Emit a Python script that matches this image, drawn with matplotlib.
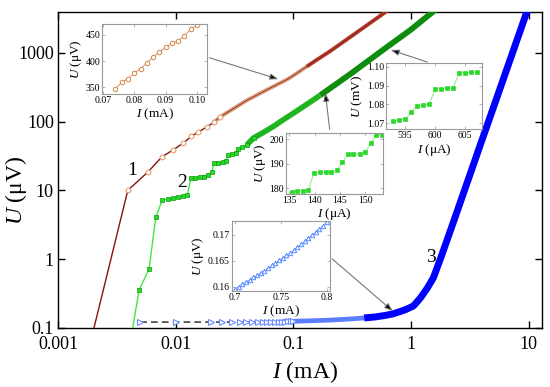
import matplotlib
matplotlib.use('Agg')
import matplotlib.pyplot as plt
from matplotlib.patches import FancyArrowPatch

plt.rcParams['font.family'] = ['Liberation Serif', 'DejaVu Serif']
plt.rcParams['mathtext.fontset'] = 'custom'
plt.rcParams['mathtext.it'] = 'Liberation Serif:italic'
plt.rcParams['mathtext.rm'] = 'Liberation Serif'

# ---------------- main data (I in mA, U in uV) ----------------
c1_I = [0.00192, 0.00392, 0.00587, 0.00763, 0.00957, 0.01165, 0.01355, 0.01545,
        0.01844, 0.0213, 0.0239, 0.0404, 0.06, 0.0883, 0.1, 0.13, 0.16, 0.2066,
        0.35, 0.618, 0.815]
c1_U = [0.07, 10.0, 18.8, 30.6, 39.0, 48.8, 60.9, 69.7,
        83.4, 98.6, 117, 204, 291, 408, 465, 630, 798, 1060,
        2000, 3980, 5560]

c2_I = [0.00417, 0.00489, 0.00594, 0.00678, 0.00772, 0.00869, 0.00958, 0.01056,
        0.01165, 0.0126, 0.01346, 0.01465, 0.01595, 0.01725, 0.01866, 0.02034,
        0.021, 0.0231, 0.0252, 0.0269, 0.0281, 0.0301, 0.0327, 0.0336, 0.0366,
        0.0404, 0.0459, 0.0558, 0.0679, 0.0826, 0.1007, 0.1225, 0.170, 0.305,
        0.6, 0.99, 1.55, 1.97]
c2_U = [0.07, 0.357, 0.715, 4.08, 7.3, 7.47, 7.73, 7.89,
        8.34, 8.63, 15.1, 15.2, 15.6, 15.9, 16.9, 18.2,
        24.9, 25.2, 25.8, 27.0, 33.0, 33.7, 34.9, 39.9, 42.7,
        46.1, 57.7, 69.7, 85.2, 107, 133, 166, 242, 490,
        1150, 2140, 3980, 5370]

c3_low_I = [0.005, 0.01, 0.02, 0.025, 0.03, 0.035, 0.04, 0.045, 0.05, 0.055,
            0.06, 0.065, 0.07, 0.075, 0.08, 0.085, 0.09, 0.095, 0.1]
c3_low_U = [0.122, 0.122, 0.122, 0.122, 0.122, 0.122, 0.122, 0.122, 0.122, 0.1225,
            0.1225, 0.123, 0.123, 0.1235, 0.124, 0.124, 0.1245, 0.125, 0.125]

c3_I = [0.08, 0.1, 0.2, 0.3, 0.4, 0.5, 0.6, 0.7, 0.8, 0.9, 1.05, 1.205, 1.38, 1.55,
        1.78, 2.17, 2.64, 3.21, 3.90, 4.75, 5.78, 7.03, 8.55, 10.4]
c3_U = [0.124, 0.125, 0.13, 0.135, 0.14, 0.145, 0.152, 0.16, 0.1725, 0.185, 0.209,
        0.274, 0.382, 0.535, 1.01, 2.63, 6.87, 17.9, 46.7, 122, 318, 829, 2160, 5640]

x_ticks = [0.001, 0.01, 0.1, 1, 10]
x_tick_labels = ['0.001', '0.01', '0.1', '1', '10']
y_ticks = [0.1, 1, 10, 100, 1000]
y_tick_labels = ['0.1', '1', '10', '100', '1000']

# ---------------- inset data ----------------
in1_I = [0.074, 0.076, 0.078, 0.080, 0.082, 0.084, 0.086, 0.088, 0.090, 0.092,
         0.094, 0.096, 0.098, 0.100]
in1_U = [347, 359.6, 366.4, 376.8, 385.6, 395.9, 408.5, 416.9, 426.5, 434.1,
         439.1, 448.7, 460.9, 468.5]

in2_I = [135.5, 136.6, 137.7, 138.8, 139.9, 141.0, 142.2, 143.3, 144.4, 145.5,
         146.6, 147.7, 148.9, 150.0, 151.1, 152.2, 153.3]
in2_U = [178.7, 178.9, 179.1, 179.5, 186.4, 186.5, 186.6, 186.8, 187.3, 190.6,
         193.8, 193.9, 194.1, 194.7, 198.4, 201.6, 201.8]

in3_I = [593, 594, 595, 596, 597, 598, 599, 600, 601, 602, 603, 604, 605, 606, 607]
in3_U = [1.0714, 1.0718, 1.0721, 1.0758, 1.0792, 1.0796, 1.0801, 1.0882, 1.0883,
         1.0885, 1.0889, 1.0967, 1.0968, 1.0970, 1.0974]

in4_I = [0.700, 0.704, 0.708, 0.712, 0.716, 0.720, 0.724, 0.728, 0.732, 0.736,
         0.740, 0.744, 0.748, 0.752, 0.756, 0.760, 0.764, 0.768, 0.772, 0.776,
         0.780, 0.784, 0.788, 0.792, 0.796, 0.800]
in4_U = [0.1596, 0.1600, 0.1605, 0.1609, 0.1613, 0.1618, 0.1622, 0.1627, 0.1631,
         0.1636, 0.1641, 0.1646, 0.1651, 0.1656, 0.1661, 0.1666, 0.1671, 0.1677,
         0.1682, 0.1688, 0.1694, 0.1700, 0.1706, 0.1712, 0.1718, 0.1725]

W, H = 550, 387
fig = plt.figure(figsize=(5.5, 3.87), dpi=100)
ax = fig.add_axes([58 / W, 1 - 328 / H, 484 / W, 316 / H])
ax.set_xscale('log')
ax.set_yscale('log')

# curve 1
ax.plot(c1_I[:11], c1_U[:11], color='#8B1010', lw=1.0, zorder=3)
ax.plot(c1_I[1:11], c1_U[1:11], 'o', ms=3.4, mfc='white', mec='#E0A070', mew=0.8, zorder=4)
ax.plot(c1_I[9:16], c1_U[9:16], color='#DAA07C', lw=2.8, zorder=3, solid_capstyle='butt')
ax.plot(c1_I[15:], c1_U[15:], color='#B0402E', lw=2.8, zorder=3, solid_capstyle='butt')
ax.plot(c1_I[9:], c1_U[9:], color='#8B1010', lw=0.5, zorder=3)

# curve 2
ax.plot(c2_I[:27], c2_U[:27], color='#40E840', lw=1.0, zorder=3)
ax.plot(c2_I[1:27], c2_U[1:27], 's', ms=3.4, mfc='#22DD22', mec='#119911', mew=0.5, zorder=4)
ax.plot(c2_I[25:33], c2_U[25:33], color='#1FB51F', lw=4.0, zorder=3, solid_capstyle='butt')
ax.plot(c2_I[32:], c2_U[32:], color='#0E8C0E', lw=4.2, zorder=3, solid_capstyle='butt')

# curve 3
ax.plot(c3_low_I, c3_low_U, color='#444444', lw=1.2, ls=(0, (4, 2.5)), zorder=3)
ax.plot(c3_low_I, c3_low_U, '>', ms=3.8, mfc='white', mec='#6B8CFF', mew=0.8, zorder=4)
ax.plot(c3_I[:5], c3_U[:5], color='#5C7DFF', lw=3.4, zorder=3, solid_capstyle='butt')
ax.plot(c3_I[4:], c3_U[4:], color='#0000FF', lw=5.0, zorder=3, solid_capstyle='butt')

ax.set_xlim(0.001, 13)
ax.set_ylim(0.1, 3910)
ax.set_xticks(x_ticks)
ax.set_xticklabels(x_tick_labels)
ax.set_yticks(y_ticks)
ax.set_yticklabels(y_tick_labels)
ax.minorticks_off()
ax.tick_params(which='both', direction='in', top=True, right=True, length=5,
               width=1, labelsize=13)
ax.tick_params(axis='x', pad=6)
ax.tick_params(axis='y', pad=3)
for s in ax.spines.values():
    s.set_linewidth(1.0)
ax.set_xlabel(r'$\mathit{I}$ (mA)', fontsize=17)
ax.set_ylabel(r'$\mathit{U}$ (μV)', fontsize=17)
ax.xaxis.set_label_coords((305 - 58) / 484, (328 - 372) / 316)
ax.xaxis.label.set_verticalalignment('center')
ax.yaxis.set_label_coords((16 - 58) / 484, (328 - 190) / 316)
ax.yaxis.label.set_verticalalignment('center')

for txt, (px, py) in zip(['1', '2', '3'], [(132, 170), (182, 183), (431, 257)]):
    fig.text(px / W, 1 - py / H, txt, ha='center', va='center', fontsize=14)


def style_inset(a):
    for s in a.spines.values():
        s.set_color('#999999')
        s.set_linewidth(0.8)
    a.tick_params(direction='in', length=2, width=0.5, labelsize=7, pad=1.5,
                  top=True, right=True, colors='#999999', labelcolor='black')
    a.minorticks_off()


# inset 1
a1 = fig.add_axes([102.3 / W, 1 - 94 / H, 105 / W, 70 / H])
a1.plot(in1_I, in1_U, color='#E07070', lw=0.6, marker='o', ms=3.2, mfc='white',
        mec='#D08A40', mew=0.7)
a1.set_xlim(0.0698, 0.1033)
a1.set_ylim(337, 471)
a1.set_xticks([0.07, 0.08, 0.09, 0.10])
a1.set_xticklabels(['0.07', '0.08', '0.09', '0.10'])
a1.set_yticks([350, 400, 450])
style_inset(a1)
a1.set_xlabel(r'$\mathit{I}$ (mA)', fontsize=9.5, labelpad=1)
a1.set_ylabel(r'$\mathit{U}$ (μV)', fontsize=9.5, labelpad=1)

# inset 2
a2 = fig.add_axes([286 / W, 1 - 194 / H, 97.3 / W, 61.3 / H])
a2.plot(in2_I, in2_U, color='#90E890', lw=0.7, marker='s', ms=3.0, mfc='#22DD22',
        mec='#22CC22', mew=0.4)
a2.set_xlim(134.35, 153.6)
a2.set_ylim(177.7, 202.6)
a2.set_xticks([135, 140, 145, 150])
a2.set_yticks([180, 190, 200])
style_inset(a2)
a2.set_xlabel(r'$\mathit{I}$ (μA)', fontsize=9.5, labelpad=1)
a2.set_ylabel(r'$\mathit{U}$ (μV)', fontsize=9.5, labelpad=1)

# inset 3
a3 = fig.add_axes([386 / W, 1 - 129.3 / H, 96 / W, 66 / H])
a3.plot(in3_I, in3_U, color='#90E890', lw=0.7, marker='s', ms=3.0, mfc='#22DD22',
        mec='#22CC22', mew=0.4)
a3.set_xlim(591.8, 607.8)
a3.set_ylim(1.0668, 1.1018)
a3.set_xticks([595, 600, 605])
a3.set_yticks([1.07, 1.08, 1.09, 1.10])
a3.set_yticklabels(['1.07', '1.08', '1.09', '1.10'])
style_inset(a3)
a3.set_xlabel(r'$\mathit{I}$ (μA)', fontsize=9.5, labelpad=1)
a3.set_ylabel(r'$\mathit{U}$ (mV)', fontsize=9.5, labelpad=1)

# inset 4
a4 = fig.add_axes([231.7 / W, 1 - 291 / H, 98.3 / W, 70 / H])
a4.plot(in4_I, in4_U, color='#88AAFF', lw=0.6, marker='^', ms=3.2, mfc='white',
        mec='#5588FF', mew=0.7)
a4.set_xlim(0.6964, 0.8036)
a4.set_ylim(0.15917, 0.1727)
a4.set_xticks([0.7, 0.75, 0.8])
a4.set_xticklabels(['0.7', '0.75', '0.8'])
a4.set_yticks([0.16, 0.165, 0.17])
a4.set_yticklabels(['0.16', '0.165', '0.17'])
style_inset(a4)
a4.set_xlabel(r'$\mathit{I}$ (mA)', fontsize=9.5, labelpad=1)
a4.set_ylabel(r'$\mathit{U}$ (μV)', fontsize=9.5, labelpad=1)

# connectors (figure pixel coordinates, origin bottom-left)
conns = [((207, H - 57), (281, H - 80)),
         ((330, H - 132), (325, H - 90)),
         ((430, H - 63), (388, H - 49)),
         ((330, H - 257), (395, H - 313))]
for start, end in conns:
    fig.add_artist(FancyArrowPatch(
        start, end, transform=None, arrowstyle='-|>,head_length=5,head_width=1.8',
        ec='#777777', fc='black', lw=0.8, mutation_scale=1, zorder=10))

fig.savefig('out.png', dpi=100)
